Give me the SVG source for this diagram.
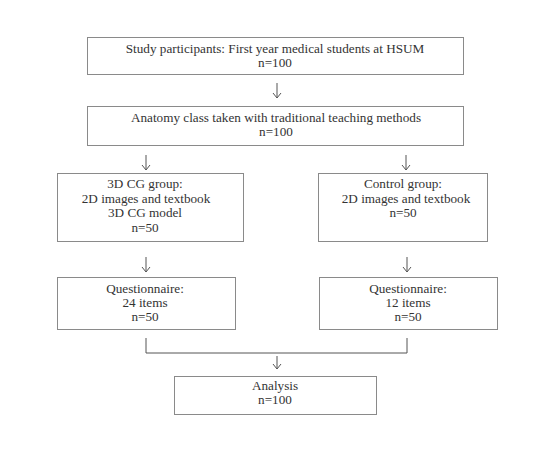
<svg xmlns="http://www.w3.org/2000/svg" width="548" height="453" viewBox="0 0 548 453">
<style>
.box{fill:#fff;stroke:#8a8a8a;stroke-width:1}
.t{font-family:"Liberation Serif",serif;font-size:13.2px;fill:#333;text-anchor:middle}
.c{fill:none;stroke:#555;stroke-width:1}
</style>
<defs>
<marker id="ah" viewBox="0 0 10 10" refX="9.5" refY="5" markerWidth="10" markerHeight="10" markerUnits="userSpaceOnUse" orient="auto">
<path d="M4.5,1 L9.5,5 L4.5,9" fill="none" stroke="#555" stroke-width="1"/>
</marker>
</defs>
<rect width="548" height="453" fill="#fff"/>
<g id="connectors">
<line class="c" x1="277" y1="83" x2="277" y2="98" marker-end="url(#ah)"/>
<line class="c" x1="146" y1="155" x2="146" y2="170" marker-end="url(#ah)"/>
<line class="c" x1="406" y1="155" x2="406" y2="170" marker-end="url(#ah)"/>
<line class="c" x1="146" y1="257" x2="146" y2="272" marker-end="url(#ah)"/>
<line class="c" x1="407" y1="257" x2="407" y2="272" marker-end="url(#ah)"/>
<path class="c" d="M146,338 V353 H407 V338"/>
<line class="c" x1="277" y1="356" x2="277" y2="369" marker-end="url(#ah)"/>
</g>
<g id="participants">
<rect class="box" x="87.5" y="37.5" width="376" height="37"/>
<text class="t" x="275" y="53">Study participants: First year medical students at HSUM</text>
<text class="t" x="275" y="67">n=100</text>
</g>
<g id="anatomy">
<rect class="box" x="87.5" y="106.5" width="376" height="39"/>
<text class="t" x="276" y="122">Anatomy class taken with traditional teaching methods</text>
<text class="t" x="276" y="136">n=100</text>
</g>
<g id="cg-group">
<rect class="box" x="57.5" y="173.5" width="186" height="68"/>
<text class="t" x="145" y="188">3D CG group:</text>
<text class="t" x="146" y="202.5">2D images and textbook</text>
<text class="t" x="145" y="217">3D CG model</text>
<text class="t" x="145" y="231.5">n=50</text>
</g>
<g id="control-group">
<rect class="box" x="318.5" y="173.5" width="169" height="68"/>
<text class="t" x="403" y="188">Control group:</text>
<text class="t" x="406" y="202.5">2D images and textbook</text>
<text class="t" x="403" y="217">n=50</text>
</g>
<g id="questionnaire-cg">
<rect class="box" x="57.5" y="277.5" width="178" height="52"/>
<text class="t" x="145" y="293">Questionnaire:</text>
<text class="t" x="145" y="307">24 items</text>
<text class="t" x="145" y="321">n=50</text>
</g>
<g id="questionnaire-control">
<rect class="box" x="319.5" y="277.5" width="178" height="52"/>
<text class="t" x="408" y="293">Questionnaire:</text>
<text class="t" x="408" y="307">12 items</text>
<text class="t" x="408" y="321">n=50</text>
</g>
<g id="analysis">
<rect class="box" x="174.5" y="376.5" width="202" height="38"/>
<text class="t" x="275" y="390">Analysis</text>
<text class="t" x="275" y="404">n=100</text>
</g>
</svg>
